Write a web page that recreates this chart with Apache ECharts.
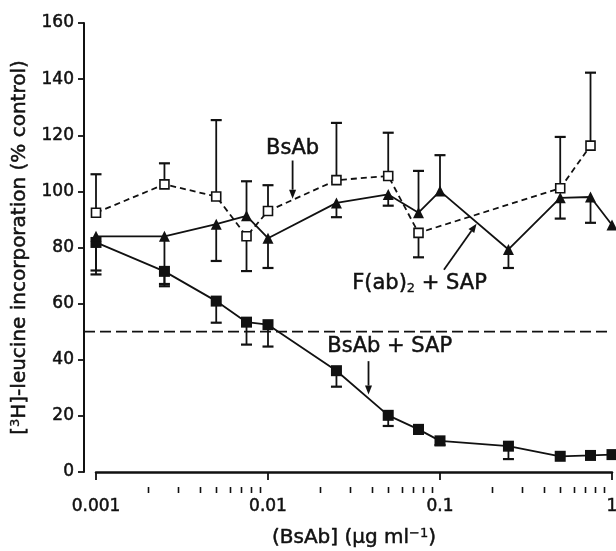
<!DOCTYPE html>
<html>
<head>
<meta charset="utf-8">
<script src="https://cdn.jsdelivr.net/npm/echarts@6/dist/echarts.min.js"></script>
<style>
html,body{margin:0;padding:0;background:#fff;}
#chart{width:616px;height:551px;}
</style>
</head>
<body>
<div id="chart"></div>
<script>
// ---- data ----
const xValues = [0.001, 0.0025, 0.005, 0.0075, 0.01, 0.025, 0.05, 0.075, 0.1, 0.25, 0.5, 0.75, 1];
// BsAb alone (open squares, dashed line); error bar end values
const bsAb      = [92.4, 102.5, 98.2, 84.0, 93.0, 104.0, 105.5, 85.2, null, null, 101.1, 116.3, null];
const bsAbErr   = [106.1, 110.0, 125.4, 71.6, 102.2, 124.4, 120.9, 76.5, null, null, 119.4, 142.3, null];
// F(ab)2 + SAP (filled triangles)
const fabSap    = [84.0, 84.0, 88.3, 91.3, 83.3, 95.9, 98.9, 92.4, 100.1, 79.3, 97.7, 98.0, 88.0];
const fabSapErr = [70.4, 67.0, 75.2, 103.6, 72.7, 90.8, 94.9, 107.3, 112.9, 72.7, 90.3, 88.8, null];
// BsAb + SAP (filled squares)
const bsAbSap    = [81.8, 71.5, 60.9, 53.4, 52.5, 36.1, 20.2, 15.2, 11.1, 9.2, 5.6, 5.9, 6.2];
const bsAbSapErr = [71.8, 66.2, 53.2, 45.4, 44.7, 30.4, 16.4, 13.6, 9.6, 4.6, null, null, null];
// reference line
const halfLine = 50;
// axis ticks
const yMin = 0, yMax = 160, yStep = 20;
const xMajorTicks = [0.001, 0.01, 0.1, 1];
const xMinorTicks = [0.002,0.003,0.004,0.005,0.006,0.007,0.008,0.009,
                     0.02,0.03,0.04,0.05,0.06,0.07,0.08,0.09,
                     0.2,0.3,0.4,0.5,0.6,0.7,0.8,0.9];
// annotations (data coordinates)
const annotText   = ['BsAb', 'F(ab)2 + SAP', 'BsAb + SAP'];
const annotX      = [0.0139, 0.0760, 0.0510];
const annotY      = [115.2, 67.0, 44.6];
const arrowFromX  = [0.0139, 0.1054, 0.0384];
const arrowFromY  = [111.0, 72.1, 39.5];
const arrowToX    = [0.0139, 0.1632, 0.0384];
const arrowToY    = [97.4, 88.5, 27.6];

// ---- styles ----
const FONT = "'DejaVu Sans', Verdana, sans-serif";
const INK = '#111';
const FS_TICK = 17;
const FS_NAME = 20;
const FS_ANN = 21;
const Y_OFFSET = 12;
const X_OFFSET = 15;
const HEAVY = 0.5;

function pairs(ys) {
  return xValues.map((x, i) => [x, ys[i]]);
}
function errPairs(ys, es) {
  const out = [];
  xValues.forEach((x, i) => {
    if (ys[i] != null && es[i] != null) out.push([x, ys[i], es[i]]);
  });
  return out;
}

function errRender(params, api) {
  const x = api.value(0), y = api.value(1), e = api.value(2);
  const p0 = api.coord([x, y]);
  const p1 = api.coord([x, e]);
  const cap = 5.5;
  return {
    type: 'group',
    children: [
      {type: 'line', shape: {x1: p0[0], y1: p0[1], x2: p1[0], y2: p1[1]}, style: {stroke: INK, lineWidth: 1.8}},
      {type: 'line', shape: {x1: p1[0] - cap, y1: p1[1], x2: p1[0] + cap, y2: p1[1]}, style: {stroke: INK, lineWidth: 2.2}}
    ]
  };
}

function minorTickRender(params, api) {
  const cs = params.coordSys;
  const y0 = cs.y + cs.height + X_OFFSET;
  return {
    type: 'group',
    children: xMinorTicks.map(v => {
      const p = api.coord([v, yMin]);
      const xx = Math.round(p[0]) + 0.5;
      return {type: 'line', shape: {x1: xx, y1: y0, x2: xx, y2: y0 + 6}, style: {stroke: INK, lineWidth: 1.6}};
    })
  };
}

function annotRender(params, api) {
  const i = params.dataIndex;
  const t = api.coord([annotX[i], annotY[i]]);
  const a = api.coord([arrowFromX[i], arrowFromY[i]]);
  const b = api.coord([arrowToX[i], arrowToY[i]]);
  const dx = b[0] - a[0], dy = b[1] - a[1];
  const len = Math.sqrt(dx * dx + dy * dy);
  const ux = dx / len, uy = dy / len;
  const hl = 9, hw = 3.5;
  const bx = b[0] - ux * hl, by = b[1] - uy * hl;
  let text = annotText[i];
  const rich = {
    n: {fontSize: FS_ANN, fontFamily: FONT, fill: INK, stroke: INK, lineWidth: HEAVY},
    s: {fontSize: 13, fontFamily: FONT, fill: INK, stroke: INK, lineWidth: 0.3, padding: [10, 0, 0, 0]}
  };
  if (text.indexOf('F(ab)2') === 0) {
    text = '{n|F(ab)}{s|2}{n| + SAP}';
  } else {
    text = '{n|' + text + '}';
  }
  return {
    type: 'group',
    children: [
      {type: 'text', x: t[0], y: t[1], style: {text: text, rich: rich, align: 'center', verticalAlign: 'middle', fontSize: FS_ANN, fontFamily: FONT, fill: INK}},
      {type: 'line', shape: {x1: a[0], y1: a[1], x2: bx, y2: by}, style: {stroke: INK, lineWidth: 1.8}},
      {type: 'polygon', shape: {points: [[b[0], b[1]], [bx - uy * hw, by + ux * hw], [bx + uy * hw, by - ux * hw]]}, style: {fill: INK}}
    ]
  };
}

function halfRender(params, api) {
  const p = api.coord([xValues[0], api.value(1)]);
  const cs = params.coordSys;
  return {
    type: 'line',
    shape: {x1: cs.x - Y_OFFSET, y1: p[1], x2: cs.x + cs.width, y2: p[1]},
    style: {stroke: INK, lineWidth: 1.8, lineDash: [11, 5]}
  };
}

const nameRich = {
  n: {fontSize: FS_NAME, fontFamily: FONT, color: INK, textBorderColor: INK, textBorderWidth: HEAVY},
  s: {fontSize: 13, fontFamily: FONT, color: INK, textBorderColor: INK, textBorderWidth: 0.3, padding: [0, 0, 9, 0]}
};

const chart = echarts.init(document.getElementById('chart'), null, {renderer: 'canvas'});
chart.setOption({
  backgroundColor: '#fff',
  animation: false,
  grid: {left: 96, right: 4, top: 23, bottom: 79, containLabel: false, outerBoundsMode: 'none'},
  xAxis: {
    type: 'log', logBase: 10, min: 0.001, max: 1, interval: 1,
    position: 'bottom', offset: X_OFFSET,
    axisLine: {show: true, lineStyle: {color: INK, width: 2.5}},
    axisTick: {show: true, inside: false, length: 8, interval: 0, lineStyle: {color: INK, width: 1.8}, customValues: xMajorTicks},
    axisLabel: {show: true, margin: 11, color: INK, fontSize: FS_TICK, fontFamily: FONT, interval: 0, customValues: xMajorTicks,
      textBorderColor: INK, textBorderWidth: HEAVY,
      formatter: v => String(Number(v.toPrecision(6)))},
    splitLine: {show: false},
    name: '{n|(BsAb] (μg ml}{s|−1}{n|)}',
    nameLocation: 'middle', nameGap: 40,
    nameTextStyle: {rich: nameRich}
  },
  yAxis: {
    type: 'value', min: yMin, max: yMax, interval: yStep, offset: Y_OFFSET,
    axisLine: {show: true, lineStyle: {color: INK, width: 2}},
    axisTick: {show: true, inside: false, length: 6, lineStyle: {color: INK, width: 1.8}},
    axisLabel: {margin: 10, color: INK, fontSize: FS_TICK, fontFamily: FONT, textBorderColor: INK, textBorderWidth: HEAVY},
    splitLine: {show: false},
    name: '{n|[}{s|3}{n|H]-leucine incorporation (% control)}',
    nameLocation: 'middle', nameGap: 50, nameRotate: 90,
    nameTextStyle: {rich: nameRich}
  },
  series: [
    {type: 'custom', name: 'minorTicks', renderItem: minorTickRender, data: [[xMinorTicks[0], yMin]], clip: false, silent: true, z: 1},
    {type: 'custom', name: 'half', renderItem: halfRender, data: [[xValues[0], halfLine]], clip: false, silent: true, z: 1},
    {type: 'custom', name: 'errBsAb', renderItem: errRender, data: errPairs(bsAb, bsAbErr), clip: false, z: 2},
    {type: 'custom', name: 'errFab', renderItem: errRender, data: errPairs(fabSap, fabSapErr), clip: false, z: 2},
    {type: 'custom', name: 'errBsAbSap', renderItem: errRender, data: errPairs(bsAbSap, bsAbSapErr), clip: false, z: 2},
    {type: 'line', name: 'BsAb + SAP', data: pairs(bsAbSap), symbol: 'rect', symbolSize: 11,
      itemStyle: {color: INK}, lineStyle: {color: INK, width: 1.8}, clip: false, z: 3},
    {type: 'line', name: 'F(ab)2 + SAP', data: pairs(fabSap), symbol: 'triangle', symbolSize: 11,
      itemStyle: {color: INK}, lineStyle: {color: INK, width: 1.8}, clip: false, z: 3},
    {type: 'line', name: 'BsAb', data: pairs(bsAb), connectNulls: true, symbol: 'rect', symbolSize: 9,
      itemStyle: {color: '#fff', borderColor: INK, borderWidth: 1.6},
      lineStyle: {color: INK, width: 1.8, type: [6, 4]}, clip: false, z: 4},
    {type: 'custom', name: 'annot', renderItem: annotRender, data: annotX.map((x, i) => [x, annotY[i]]), clip: false, z: 5}
  ]
});
</script>
</body>
</html>
